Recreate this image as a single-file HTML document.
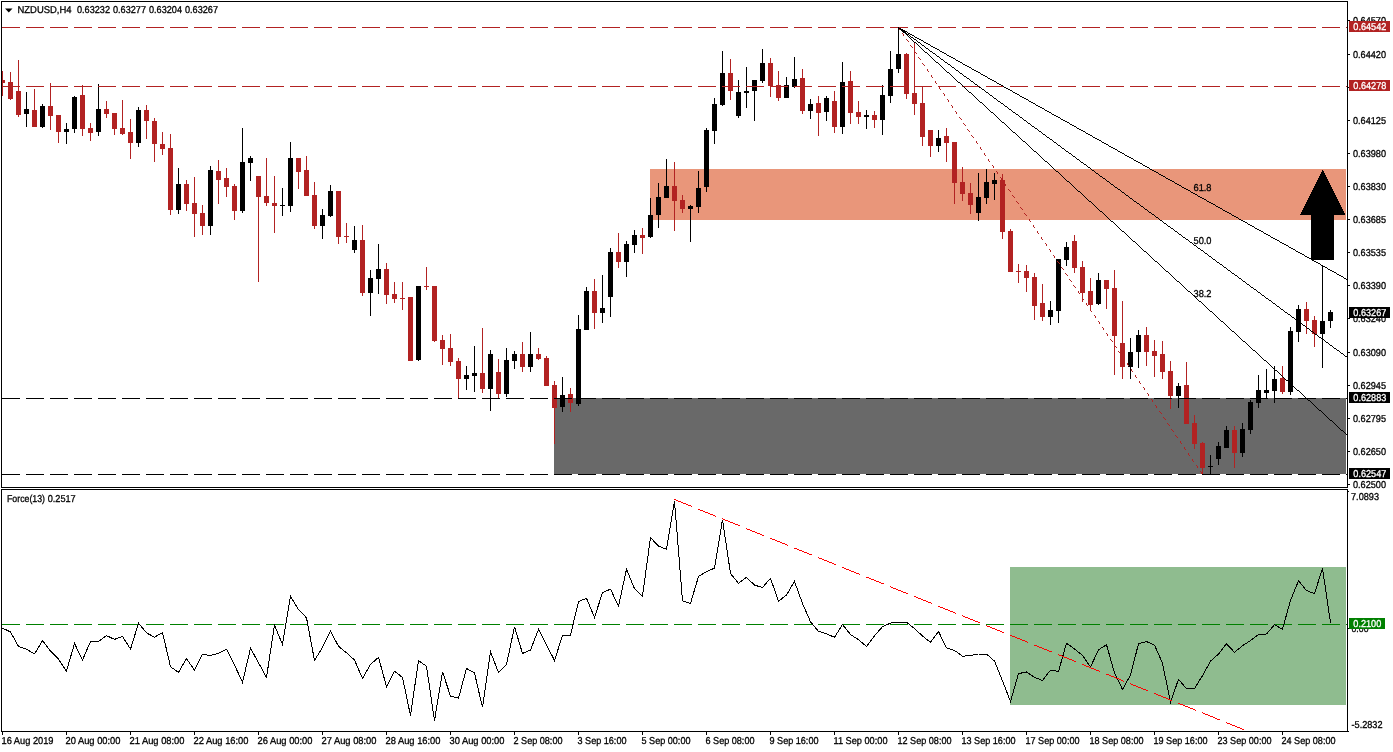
<!DOCTYPE html>
<html lang="en">
<head>
<meta charset="utf-8">
<title>NZDUSD,H4</title>
<style>
html,body{margin:0;padding:0;background:#fff;}
body{width:1393px;height:752px;overflow:hidden;}
svg{display:block;}
text{font-family:'Liberation Sans', 'DejaVu Sans', sans-serif;font-size:10px;fill:#000;stroke:#000;stroke-width:0.3px;}
.ce{shape-rendering:crispEdges;}
</style>
</head>
<body>
<svg width="1393" height="752" viewBox="0 0 1393 752">
<rect x="0" y="0" width="1393" height="752" fill="#fff"/>

<g class="ce">
<rect x="650" y="169" width="696" height="51" fill="#E9967A"/>
<rect x="554" y="398" width="792" height="76" fill="#696969"/>
<rect x="1010" y="567" width="336" height="138" fill="#8FBC8F"/>
</g>
<g class="ce">
<rect x="2" y="71" width="1" height="25" fill="#B22222"/>
<rect x="2" y="80" width="3" height="3" fill="#B22222"/>
<rect x="10" y="72" width="1" height="28" fill="#B22222"/>
<rect x="8" y="82" width="5" height="17" fill="#B22222"/>
<rect x="18" y="60" width="1" height="57" fill="#B22222"/>
<rect x="16" y="91" width="5" height="24" fill="#B22222"/>
<rect x="26" y="92" width="1" height="35" fill="#000"/>
<rect x="24" y="109" width="5" height="5" fill="#000"/>
<rect x="34" y="89" width="1" height="38" fill="#B22222"/>
<rect x="32" y="110" width="5" height="17" fill="#B22222"/>
<rect x="42" y="104" width="1" height="24" fill="#000"/>
<rect x="40" y="106" width="5" height="21" fill="#000"/>
<rect x="50" y="83" width="1" height="47" fill="#B22222"/>
<rect x="48" y="106" width="5" height="10" fill="#B22222"/>
<rect x="58" y="115" width="1" height="28" fill="#B22222"/>
<rect x="56" y="115" width="5" height="17" fill="#B22222"/>
<rect x="66" y="123" width="1" height="21" fill="#000"/>
<rect x="64" y="129" width="5" height="3" fill="#000"/>
<rect x="74" y="96" width="1" height="37" fill="#000"/>
<rect x="72" y="97" width="5" height="32" fill="#000"/>
<rect x="82" y="85" width="1" height="51" fill="#B22222"/>
<rect x="80" y="95" width="5" height="34" fill="#B22222"/>
<rect x="90" y="123" width="1" height="18" fill="#B22222"/>
<rect x="88" y="128" width="5" height="5" fill="#B22222"/>
<rect x="98" y="84" width="1" height="52" fill="#000"/>
<rect x="96" y="109" width="5" height="23" fill="#000"/>
<rect x="106" y="101" width="1" height="17" fill="#B22222"/>
<rect x="104" y="109" width="5" height="5" fill="#B22222"/>
<rect x="114" y="113" width="1" height="22" fill="#B22222"/>
<rect x="112" y="113" width="5" height="16" fill="#B22222"/>
<rect x="122" y="100" width="1" height="35" fill="#B22222"/>
<rect x="120" y="128" width="5" height="6" fill="#B22222"/>
<rect x="130" y="119" width="1" height="40" fill="#B22222"/>
<rect x="128" y="132" width="5" height="11" fill="#B22222"/>
<rect x="138" y="107" width="1" height="40" fill="#000"/>
<rect x="136" y="110" width="5" height="33" fill="#000"/>
<rect x="146" y="105" width="1" height="34" fill="#B22222"/>
<rect x="144" y="110" width="5" height="11" fill="#B22222"/>
<rect x="154" y="118" width="1" height="44" fill="#B22222"/>
<rect x="152" y="121" width="5" height="23" fill="#B22222"/>
<rect x="162" y="132" width="1" height="23" fill="#B22222"/>
<rect x="160" y="144" width="5" height="5" fill="#B22222"/>
<rect x="170" y="134" width="1" height="81" fill="#B22222"/>
<rect x="168" y="148" width="5" height="62" fill="#B22222"/>
<rect x="178" y="168" width="1" height="46" fill="#000"/>
<rect x="176" y="184" width="5" height="26" fill="#000"/>
<rect x="186" y="180" width="1" height="31" fill="#B22222"/>
<rect x="184" y="184" width="5" height="20" fill="#B22222"/>
<rect x="194" y="177" width="1" height="60" fill="#B22222"/>
<rect x="192" y="203" width="5" height="11" fill="#B22222"/>
<rect x="202" y="205" width="1" height="30" fill="#B22222"/>
<rect x="200" y="213" width="5" height="13" fill="#B22222"/>
<rect x="210" y="166" width="1" height="69" fill="#000"/>
<rect x="208" y="170" width="5" height="56" fill="#000"/>
<rect x="218" y="160" width="1" height="44" fill="#B22222"/>
<rect x="216" y="171" width="5" height="9" fill="#B22222"/>
<rect x="226" y="168" width="1" height="29" fill="#B22222"/>
<rect x="224" y="178" width="5" height="9" fill="#B22222"/>
<rect x="234" y="184" width="1" height="36" fill="#B22222"/>
<rect x="232" y="186" width="5" height="25" fill="#B22222"/>
<rect x="242" y="128" width="1" height="85" fill="#000"/>
<rect x="240" y="162" width="5" height="49" fill="#000"/>
<rect x="250" y="156" width="1" height="25" fill="#000"/>
<rect x="248" y="158" width="5" height="5" fill="#000"/>
<rect x="258" y="176" width="1" height="106" fill="#B22222"/>
<rect x="256" y="176" width="5" height="21" fill="#B22222"/>
<rect x="266" y="158" width="1" height="48" fill="#B22222"/>
<rect x="264" y="196" width="5" height="7" fill="#B22222"/>
<rect x="274" y="176" width="1" height="57" fill="#B22222"/>
<rect x="272" y="203" width="5" height="3" fill="#B22222"/>
<rect x="282" y="188" width="1" height="28" fill="#000"/>
<rect x="280" y="205" width="5" height="1" fill="#000"/>
<rect x="290" y="142" width="1" height="70" fill="#000"/>
<rect x="288" y="158" width="5" height="48" fill="#000"/>
<rect x="298" y="158" width="1" height="31" fill="#B22222"/>
<rect x="296" y="158" width="5" height="14" fill="#B22222"/>
<rect x="306" y="156" width="1" height="40" fill="#B22222"/>
<rect x="304" y="170" width="5" height="26" fill="#B22222"/>
<rect x="314" y="182" width="1" height="47" fill="#B22222"/>
<rect x="312" y="195" width="5" height="31" fill="#B22222"/>
<rect x="322" y="209" width="1" height="30" fill="#000"/>
<rect x="320" y="215" width="5" height="11" fill="#000"/>
<rect x="330" y="185" width="1" height="32" fill="#000"/>
<rect x="328" y="191" width="5" height="25" fill="#000"/>
<rect x="338" y="191" width="1" height="53" fill="#B22222"/>
<rect x="336" y="191" width="5" height="46" fill="#B22222"/>
<rect x="346" y="223" width="1" height="20" fill="#B22222"/>
<rect x="344" y="236" width="5" height="1" fill="#B22222"/>
<rect x="354" y="226" width="1" height="27" fill="#000"/>
<rect x="352" y="240" width="5" height="10" fill="#000"/>
<rect x="362" y="225" width="1" height="71" fill="#B22222"/>
<rect x="360" y="240" width="5" height="53" fill="#B22222"/>
<rect x="370" y="270" width="1" height="46" fill="#000"/>
<rect x="368" y="278" width="5" height="15" fill="#000"/>
<rect x="378" y="244" width="1" height="50" fill="#000"/>
<rect x="376" y="269" width="5" height="10" fill="#000"/>
<rect x="386" y="263" width="1" height="41" fill="#B22222"/>
<rect x="384" y="269" width="5" height="26" fill="#B22222"/>
<rect x="394" y="282" width="1" height="21" fill="#B22222"/>
<rect x="392" y="294" width="5" height="5" fill="#B22222"/>
<rect x="402" y="282" width="1" height="28" fill="#B22222"/>
<rect x="400" y="298" width="5" height="1" fill="#B22222"/>
<rect x="410" y="297" width="1" height="64" fill="#B22222"/>
<rect x="408" y="297" width="5" height="64" fill="#B22222"/>
<rect x="418" y="286" width="1" height="75" fill="#000"/>
<rect x="416" y="286" width="5" height="74" fill="#000"/>
<rect x="426" y="267" width="1" height="23" fill="#B22222"/>
<rect x="424" y="286" width="5" height="1" fill="#B22222"/>
<rect x="434" y="286" width="1" height="56" fill="#B22222"/>
<rect x="432" y="286" width="5" height="55" fill="#B22222"/>
<rect x="442" y="335" width="1" height="30" fill="#B22222"/>
<rect x="440" y="340" width="5" height="9" fill="#B22222"/>
<rect x="450" y="334" width="1" height="32" fill="#B22222"/>
<rect x="448" y="348" width="5" height="14" fill="#B22222"/>
<rect x="458" y="358" width="1" height="40" fill="#B22222"/>
<rect x="456" y="361" width="5" height="18" fill="#B22222"/>
<rect x="466" y="366" width="1" height="24" fill="#000"/>
<rect x="464" y="375" width="5" height="4" fill="#000"/>
<rect x="474" y="346" width="1" height="46" fill="#000"/>
<rect x="472" y="373" width="5" height="3" fill="#000"/>
<rect x="482" y="328" width="1" height="65" fill="#B22222"/>
<rect x="480" y="373" width="5" height="16" fill="#B22222"/>
<rect x="490" y="350" width="1" height="61" fill="#000"/>
<rect x="488" y="354" width="5" height="35" fill="#000"/>
<rect x="498" y="359" width="1" height="39" fill="#B22222"/>
<rect x="496" y="372" width="5" height="22" fill="#B22222"/>
<rect x="506" y="348" width="1" height="49" fill="#000"/>
<rect x="504" y="360" width="5" height="34" fill="#000"/>
<rect x="514" y="351" width="1" height="18" fill="#000"/>
<rect x="512" y="354" width="5" height="7" fill="#000"/>
<rect x="522" y="342" width="1" height="30" fill="#B22222"/>
<rect x="520" y="354" width="5" height="13" fill="#B22222"/>
<rect x="530" y="332" width="1" height="40" fill="#000"/>
<rect x="528" y="354" width="5" height="13" fill="#000"/>
<rect x="538" y="348" width="1" height="12" fill="#B22222"/>
<rect x="536" y="354" width="5" height="5" fill="#B22222"/>
<rect x="546" y="356" width="1" height="30" fill="#B22222"/>
<rect x="544" y="358" width="5" height="28" fill="#B22222"/>
<rect x="554" y="381" width="1" height="63" fill="#B22222"/>
<rect x="552" y="385" width="5" height="23" fill="#B22222"/>
<rect x="562" y="377" width="1" height="35" fill="#000"/>
<rect x="560" y="395" width="5" height="12" fill="#000"/>
<rect x="570" y="388" width="1" height="24" fill="#B22222"/>
<rect x="568" y="394" width="5" height="9" fill="#B22222"/>
<rect x="578" y="315" width="1" height="91" fill="#000"/>
<rect x="576" y="329" width="5" height="75" fill="#000"/>
<rect x="586" y="287" width="1" height="43" fill="#000"/>
<rect x="584" y="291" width="5" height="39" fill="#000"/>
<rect x="594" y="279" width="1" height="50" fill="#B22222"/>
<rect x="592" y="291" width="5" height="22" fill="#B22222"/>
<rect x="602" y="275" width="1" height="48" fill="#000"/>
<rect x="600" y="308" width="5" height="5" fill="#000"/>
<rect x="610" y="248" width="1" height="69" fill="#000"/>
<rect x="608" y="252" width="5" height="45" fill="#000"/>
<rect x="618" y="233" width="1" height="35" fill="#B22222"/>
<rect x="616" y="252" width="5" height="10" fill="#B22222"/>
<rect x="626" y="241" width="1" height="36" fill="#000"/>
<rect x="624" y="244" width="5" height="18" fill="#000"/>
<rect x="634" y="230" width="1" height="23" fill="#000"/>
<rect x="632" y="235" width="5" height="10" fill="#000"/>
<rect x="642" y="228" width="1" height="26" fill="#B22222"/>
<rect x="640" y="235" width="5" height="3" fill="#B22222"/>
<rect x="650" y="198" width="1" height="40" fill="#000"/>
<rect x="648" y="215" width="5" height="22" fill="#000"/>
<rect x="658" y="183" width="1" height="45" fill="#000"/>
<rect x="656" y="197" width="5" height="18" fill="#000"/>
<rect x="666" y="159" width="1" height="39" fill="#000"/>
<rect x="664" y="186" width="5" height="12" fill="#000"/>
<rect x="674" y="162" width="1" height="69" fill="#B22222"/>
<rect x="672" y="186" width="5" height="15" fill="#B22222"/>
<rect x="682" y="195" width="1" height="18" fill="#B22222"/>
<rect x="680" y="200" width="5" height="9" fill="#B22222"/>
<rect x="690" y="205" width="1" height="37" fill="#000"/>
<rect x="688" y="206" width="5" height="3" fill="#000"/>
<rect x="698" y="171" width="1" height="42" fill="#000"/>
<rect x="696" y="188" width="5" height="19" fill="#000"/>
<rect x="706" y="128" width="1" height="64" fill="#000"/>
<rect x="704" y="130" width="5" height="57" fill="#000"/>
<rect x="714" y="98" width="1" height="46" fill="#000"/>
<rect x="712" y="104" width="5" height="27" fill="#000"/>
<rect x="722" y="51" width="1" height="55" fill="#000"/>
<rect x="720" y="73" width="5" height="32" fill="#000"/>
<rect x="730" y="59" width="1" height="41" fill="#B22222"/>
<rect x="728" y="73" width="5" height="18" fill="#B22222"/>
<rect x="738" y="80" width="1" height="38" fill="#000"/>
<rect x="736" y="92" width="5" height="24" fill="#000"/>
<rect x="746" y="67" width="1" height="41" fill="#000"/>
<rect x="744" y="91" width="5" height="2" fill="#000"/>
<rect x="754" y="80" width="1" height="41" fill="#000"/>
<rect x="752" y="80" width="5" height="11" fill="#000"/>
<rect x="762" y="49" width="1" height="34" fill="#000"/>
<rect x="760" y="63" width="5" height="18" fill="#000"/>
<rect x="770" y="58" width="1" height="39" fill="#B22222"/>
<rect x="768" y="63" width="5" height="23" fill="#B22222"/>
<rect x="778" y="71" width="1" height="30" fill="#B22222"/>
<rect x="776" y="85" width="5" height="13" fill="#B22222"/>
<rect x="786" y="77" width="1" height="21" fill="#000"/>
<rect x="784" y="85" width="5" height="13" fill="#000"/>
<rect x="794" y="57" width="1" height="31" fill="#000"/>
<rect x="792" y="79" width="5" height="8" fill="#000"/>
<rect x="802" y="69" width="1" height="45" fill="#B22222"/>
<rect x="800" y="78" width="5" height="33" fill="#B22222"/>
<rect x="810" y="99" width="1" height="20" fill="#000"/>
<rect x="808" y="104" width="5" height="7" fill="#000"/>
<rect x="818" y="96" width="1" height="40" fill="#B22222"/>
<rect x="816" y="103" width="5" height="10" fill="#B22222"/>
<rect x="826" y="96" width="1" height="25" fill="#000"/>
<rect x="824" y="98" width="5" height="14" fill="#000"/>
<rect x="834" y="91" width="1" height="42" fill="#B22222"/>
<rect x="832" y="101" width="5" height="26" fill="#B22222"/>
<rect x="842" y="62" width="1" height="72" fill="#000"/>
<rect x="840" y="82" width="5" height="45" fill="#000"/>
<rect x="850" y="71" width="1" height="53" fill="#B22222"/>
<rect x="848" y="81" width="5" height="32" fill="#B22222"/>
<rect x="858" y="101" width="1" height="23" fill="#B22222"/>
<rect x="856" y="112" width="5" height="5" fill="#B22222"/>
<rect x="866" y="110" width="1" height="19" fill="#000"/>
<rect x="864" y="115" width="5" height="2" fill="#000"/>
<rect x="874" y="111" width="1" height="17" fill="#B22222"/>
<rect x="872" y="115" width="5" height="5" fill="#B22222"/>
<rect x="882" y="85" width="1" height="50" fill="#000"/>
<rect x="880" y="95" width="5" height="25" fill="#000"/>
<rect x="890" y="51" width="1" height="52" fill="#000"/>
<rect x="888" y="69" width="5" height="27" fill="#000"/>
<rect x="898" y="27" width="1" height="46" fill="#000"/>
<rect x="896" y="54" width="5" height="15" fill="#000"/>
<rect x="906" y="53" width="1" height="46" fill="#B22222"/>
<rect x="904" y="54" width="5" height="40" fill="#B22222"/>
<rect x="914" y="43" width="1" height="72" fill="#B22222"/>
<rect x="912" y="93" width="5" height="11" fill="#B22222"/>
<rect x="922" y="86" width="1" height="60" fill="#B22222"/>
<rect x="920" y="103" width="5" height="34" fill="#B22222"/>
<rect x="930" y="130" width="1" height="27" fill="#B22222"/>
<rect x="928" y="130" width="5" height="16" fill="#B22222"/>
<rect x="938" y="130" width="1" height="22" fill="#000"/>
<rect x="936" y="138" width="5" height="8" fill="#000"/>
<rect x="946" y="128" width="1" height="34" fill="#B22222"/>
<rect x="944" y="136" width="5" height="7" fill="#B22222"/>
<rect x="954" y="142" width="1" height="62" fill="#B22222"/>
<rect x="952" y="142" width="5" height="41" fill="#B22222"/>
<rect x="962" y="167" width="1" height="34" fill="#B22222"/>
<rect x="960" y="182" width="5" height="12" fill="#B22222"/>
<rect x="970" y="183" width="1" height="31" fill="#B22222"/>
<rect x="968" y="193" width="5" height="12" fill="#B22222"/>
<rect x="978" y="173" width="1" height="48" fill="#000"/>
<rect x="976" y="197" width="5" height="16" fill="#000"/>
<rect x="986" y="169" width="1" height="35" fill="#000"/>
<rect x="984" y="182" width="5" height="16" fill="#000"/>
<rect x="994" y="173" width="1" height="27" fill="#000"/>
<rect x="992" y="180" width="5" height="4" fill="#000"/>
<rect x="1002" y="174" width="1" height="65" fill="#B22222"/>
<rect x="1000" y="180" width="5" height="52" fill="#B22222"/>
<rect x="1010" y="229" width="1" height="43" fill="#B22222"/>
<rect x="1008" y="231" width="5" height="41" fill="#B22222"/>
<rect x="1018" y="264" width="1" height="19" fill="#B22222"/>
<rect x="1016" y="271" width="5" height="1" fill="#B22222"/>
<rect x="1026" y="265" width="1" height="27" fill="#B22222"/>
<rect x="1024" y="271" width="5" height="7" fill="#B22222"/>
<rect x="1034" y="273" width="1" height="47" fill="#B22222"/>
<rect x="1032" y="277" width="5" height="29" fill="#B22222"/>
<rect x="1042" y="284" width="1" height="37" fill="#B22222"/>
<rect x="1040" y="303" width="5" height="14" fill="#B22222"/>
<rect x="1050" y="301" width="1" height="24" fill="#000"/>
<rect x="1048" y="310" width="5" height="7" fill="#000"/>
<rect x="1058" y="259" width="1" height="64" fill="#000"/>
<rect x="1056" y="259" width="5" height="52" fill="#000"/>
<rect x="1066" y="242" width="1" height="24" fill="#000"/>
<rect x="1064" y="247" width="5" height="13" fill="#000"/>
<rect x="1074" y="235" width="1" height="38" fill="#B22222"/>
<rect x="1072" y="241" width="5" height="27" fill="#B22222"/>
<rect x="1082" y="261" width="1" height="41" fill="#B22222"/>
<rect x="1080" y="267" width="5" height="26" fill="#B22222"/>
<rect x="1090" y="278" width="1" height="33" fill="#B22222"/>
<rect x="1088" y="291" width="5" height="14" fill="#B22222"/>
<rect x="1098" y="273" width="1" height="32" fill="#000"/>
<rect x="1096" y="280" width="5" height="24" fill="#000"/>
<rect x="1106" y="280" width="1" height="29" fill="#B22222"/>
<rect x="1104" y="280" width="5" height="9" fill="#B22222"/>
<rect x="1114" y="270" width="1" height="105" fill="#B22222"/>
<rect x="1112" y="288" width="5" height="48" fill="#B22222"/>
<rect x="1122" y="301" width="1" height="78" fill="#B22222"/>
<rect x="1120" y="343" width="5" height="24" fill="#B22222"/>
<rect x="1130" y="338" width="1" height="41" fill="#000"/>
<rect x="1128" y="352" width="5" height="15" fill="#000"/>
<rect x="1138" y="330" width="1" height="38" fill="#000"/>
<rect x="1136" y="335" width="5" height="17" fill="#000"/>
<rect x="1146" y="327" width="1" height="39" fill="#B22222"/>
<rect x="1144" y="335" width="5" height="17" fill="#B22222"/>
<rect x="1154" y="340" width="1" height="37" fill="#B22222"/>
<rect x="1152" y="351" width="5" height="5" fill="#B22222"/>
<rect x="1162" y="341" width="1" height="38" fill="#B22222"/>
<rect x="1160" y="354" width="5" height="18" fill="#B22222"/>
<rect x="1170" y="361" width="1" height="48" fill="#B22222"/>
<rect x="1168" y="371" width="5" height="25" fill="#B22222"/>
<rect x="1178" y="383" width="1" height="25" fill="#000"/>
<rect x="1176" y="386" width="5" height="10" fill="#000"/>
<rect x="1186" y="362" width="1" height="62" fill="#B22222"/>
<rect x="1184" y="385" width="5" height="39" fill="#B22222"/>
<rect x="1194" y="415" width="1" height="34" fill="#B22222"/>
<rect x="1192" y="423" width="5" height="21" fill="#B22222"/>
<rect x="1202" y="442" width="1" height="32" fill="#B22222"/>
<rect x="1200" y="443" width="5" height="25" fill="#B22222"/>
<rect x="1210" y="455" width="1" height="19" fill="#000"/>
<rect x="1208" y="466" width="5" height="1" fill="#000"/>
<rect x="1218" y="442" width="1" height="23" fill="#000"/>
<rect x="1216" y="446" width="5" height="13" fill="#000"/>
<rect x="1226" y="426" width="1" height="22" fill="#000"/>
<rect x="1224" y="430" width="5" height="18" fill="#000"/>
<rect x="1234" y="426" width="1" height="42" fill="#B22222"/>
<rect x="1232" y="430" width="5" height="23" fill="#B22222"/>
<rect x="1242" y="423" width="1" height="34" fill="#000"/>
<rect x="1240" y="429" width="5" height="24" fill="#000"/>
<rect x="1250" y="400" width="1" height="34" fill="#000"/>
<rect x="1248" y="402" width="5" height="28" fill="#000"/>
<rect x="1258" y="375" width="1" height="33" fill="#000"/>
<rect x="1256" y="390" width="5" height="13" fill="#000"/>
<rect x="1266" y="369" width="1" height="29" fill="#000"/>
<rect x="1264" y="390" width="5" height="3" fill="#000"/>
<rect x="1274" y="366" width="1" height="37" fill="#000"/>
<rect x="1272" y="379" width="5" height="12" fill="#000"/>
<rect x="1282" y="366" width="1" height="28" fill="#B22222"/>
<rect x="1280" y="378" width="5" height="14" fill="#B22222"/>
<rect x="1290" y="327" width="1" height="68" fill="#000"/>
<rect x="1288" y="331" width="5" height="61" fill="#000"/>
<rect x="1298" y="305" width="1" height="37" fill="#000"/>
<rect x="1296" y="309" width="5" height="23" fill="#000"/>
<rect x="1306" y="302" width="1" height="32" fill="#B22222"/>
<rect x="1304" y="309" width="5" height="12" fill="#B22222"/>
<rect x="1314" y="316" width="1" height="31" fill="#B22222"/>
<rect x="1312" y="320" width="5" height="14" fill="#B22222"/>
<rect x="1322" y="265" width="1" height="103" fill="#000"/>
<rect x="1320" y="321" width="5" height="13" fill="#000"/>
<rect x="1330" y="310" width="1" height="18" fill="#000"/>
<rect x="1328" y="312" width="5" height="9" fill="#000"/>
</g>
<line class="ce" x1="2" y1="27.5" x2="1347" y2="27.5" stroke="#B22222" stroke-width="1" stroke-dasharray="18 6"/>
<line class="ce" x1="2" y1="86.5" x2="1347" y2="86.5" stroke="#B22222" stroke-width="1" stroke-dasharray="18 6"/>
<line class="ce" x1="2" y1="398.5" x2="1347" y2="398.5" stroke="#000" stroke-width="1" stroke-dasharray="18 6"/>
<line class="ce" x1="2" y1="474.5" x2="1347" y2="474.5" stroke="#000" stroke-width="1" stroke-dasharray="18 6"/>
<line class="ce" x1="2" y1="624.5" x2="1347" y2="624.5" stroke="#008000" stroke-width="1" stroke-dasharray="18 6"/>
<path class="ce" d="M898.5 27v1M899.5 28v2M902.5 33v1M903.5 34v2M906.5 39v1M907.5 40v1M908.5 41v1M910.5 45v1M911.5 46v1M912.5 47v1M914.5 51v1M915.5 52v1M916.5 53v1M918.5 57v1M919.5 58v1M920.5 59v1M922.5 63v1M923.5 64v1M924.5 65v1M927.5 69v2M928.5 71v1M931.5 75v2M932.5 77v1M935.5 81v2M936.5 83v1M939.5 87v2M940.5 89v1M943.5 93v1M944.5 94v2M947.5 99v1M948.5 100v2M951.5 105v1M952.5 106v2M955.5 111v1M956.5 112v2M959.5 117v1M960.5 118v1M961.5 119v1M963.5 123v1M964.5 124v1M965.5 125v1M967.5 129v1M968.5 130v1M969.5 131v1M971.5 135v1M972.5 136v1M973.5 137v1M976.5 141v2M977.5 143v1M980.5 147v2M981.5 149v1M984.5 153v2M985.5 155v1M988.5 159v2M989.5 161v1M992.5 165v1M993.5 166v2M996.5 171v1M997.5 172v2M1000.5 177v1M1001.5 178v2M1004.5 183v1M1005.5 184v2M1008.5 189v1M1009.5 190v1M1010.5 191v1M1012.5 195v1M1013.5 196v1M1014.5 197v1M1016.5 201v1M1017.5 202v1M1018.5 203v1M1020.5 207v1M1021.5 208v1M1022.5 209v1M1024.5 213v1M1025.5 214v1M1026.5 215v1M1029.5 219v2M1030.5 221v1M1033.5 225v2M1034.5 227v1M1037.5 231v2M1038.5 233v1M1041.5 237v2M1042.5 239v1M1045.5 243v1M1046.5 244v2M1049.5 249v1M1050.5 250v2M1053.5 255v1M1054.5 256v2M1057.5 261v1M1058.5 262v1M1059.5 263v1M1061.5 267v1M1062.5 268v1M1063.5 269v1M1065.5 273v1M1066.5 274v1M1067.5 275v1M1069.5 279v1M1070.5 280v1M1071.5 281v1M1073.5 285v1M1074.5 286v1M1075.5 287v1M1078.5 291v2M1079.5 293v1M1082.5 297v2M1083.5 299v1M1086.5 303v2M1087.5 305v1M1090.5 309v2M1091.5 311v1M1094.5 315v1M1095.5 316v2M1098.5 321v1M1099.5 322v2M1102.5 327v1M1103.5 328v2M1106.5 333v1M1107.5 334v2M1110.5 339v1M1111.5 340v1M1112.5 341v1M1114.5 345v1M1115.5 346v1M1116.5 347v1M1118.5 351v1M1119.5 352v1M1120.5 353v1M1122.5 357v1M1123.5 358v1M1124.5 359v1M1127.5 363v2M1128.5 365v1M1131.5 369v2M1132.5 371v1M1135.5 375v2M1136.5 377v1M1139.5 381v2M1140.5 383v1M1143.5 387v1M1144.5 388v2M1147.5 393v1M1148.5 394v2M1151.5 399v1M1152.5 400v2M1155.5 405v1M1156.5 406v2M1159.5 411v1M1160.5 412v1M1161.5 413v1M1163.5 417v1M1164.5 418v1M1165.5 419v1M1167.5 423v1M1168.5 424v1M1169.5 425v1M1171.5 429v1M1172.5 430v1M1173.5 431v1M1175.5 435v1M1176.5 436v1M1177.5 437v1M1180.5 441v2M1181.5 443v1M1184.5 447v2M1185.5 449v1M1188.5 453v2M1189.5 455v1M1192.5 459v2M1193.5 461v1M1196.5 465v1M1197.5 466v2M1200.5 471v1M1201.5 472v2" stroke="#B22222" stroke-width="1" fill="none"/>
<path class="ce" d="M898 27.5h1M899 28.5h2M901 29.5h2M903 30.5h2M905 31.5h2M907 32.5h1M908 33.5h2M910 34.5h2M912 35.5h2M914 36.5h1M915 37.5h2M917 38.5h2M919 39.5h2M921 40.5h2M923 41.5h1M924 42.5h2M926 43.5h2M928 44.5h2M930 45.5h1M931 46.5h2M933 47.5h2M935 48.5h2M937 49.5h2M939 50.5h1M940 51.5h2M942 52.5h2M944 53.5h2M946 54.5h1M947 55.5h2M949 56.5h2M951 57.5h2M953 58.5h2M955 59.5h1M956 60.5h2M958 61.5h2M960 62.5h2M962 63.5h1M963 64.5h2M965 65.5h2M967 66.5h2M969 67.5h2M971 68.5h1M972 69.5h2M974 70.5h2M976 71.5h2M978 72.5h2M980 73.5h1M981 74.5h2M983 75.5h2M985 76.5h2M987 77.5h1M988 78.5h2M990 79.5h2M992 80.5h2M994 81.5h2M996 82.5h1M997 83.5h2M999 84.5h2M1001 85.5h2M1003 86.5h1M1004 87.5h2M1006 88.5h2M1008 89.5h2M1010 90.5h2M1012 91.5h1M1013 92.5h2M1015 93.5h2M1017 94.5h2M1019 95.5h1M1020 96.5h2M1022 97.5h2M1024 98.5h2M1026 99.5h2M1028 100.5h1M1029 101.5h2M1031 102.5h2M1033 103.5h2M1035 104.5h1M1036 105.5h2M1038 106.5h2M1040 107.5h2M1042 108.5h2M1044 109.5h1M1045 110.5h2M1047 111.5h2M1049 112.5h2M1051 113.5h1M1052 114.5h2M1054 115.5h2M1056 116.5h2M1058 117.5h2M1060 118.5h1M1061 119.5h2M1063 120.5h2M1065 121.5h2M1067 122.5h2M1069 123.5h1M1070 124.5h2M1072 125.5h2M1074 126.5h2M1076 127.5h1M1077 128.5h2M1079 129.5h2M1081 130.5h2M1083 131.5h2M1085 132.5h1M1086 133.5h2M1088 134.5h2M1090 135.5h2M1092 136.5h1M1093 137.5h2M1095 138.5h2M1097 139.5h2M1099 140.5h2M1101 141.5h1M1102 142.5h2M1104 143.5h2M1106 144.5h2M1108 145.5h1M1109 146.5h2M1111 147.5h2M1113 148.5h2M1115 149.5h2M1117 150.5h1M1118 151.5h2M1120 152.5h2M1122 153.5h2M1124 154.5h1M1125 155.5h2M1127 156.5h2M1129 157.5h2M1131 158.5h2M1133 159.5h1M1134 160.5h2M1136 161.5h2M1138 162.5h2M1140 163.5h2M1142 164.5h1M1143 165.5h2M1145 166.5h2M1147 167.5h2M1149 168.5h1M1150 169.5h2M1152 170.5h2M1154 171.5h2M1156 172.5h2M1158 173.5h1M1159 174.5h2M1161 175.5h2M1163 176.5h2M1165 177.5h1M1166 178.5h2M1168 179.5h2M1170 180.5h2M1172 181.5h2M1174 182.5h1M1175 183.5h2M1177 184.5h2M1179 185.5h2M1181 186.5h1M1182 187.5h2M1184 188.5h2M1186 189.5h2M1188 190.5h2M1190 191.5h1M1191 192.5h2M1193 193.5h2M1195 194.5h2M1197 195.5h1M1198 196.5h2M1200 197.5h2M1202 198.5h2M1204 199.5h2M1206 200.5h1M1207 201.5h2M1209 202.5h2M1211 203.5h2M1213 204.5h2M1215 205.5h1M1216 206.5h2M1218 207.5h2M1220 208.5h2M1222 209.5h1M1223 210.5h2M1225 211.5h2M1227 212.5h2M1229 213.5h2M1231 214.5h1M1232 215.5h2M1234 216.5h2M1236 217.5h2M1238 218.5h1M1239 219.5h2M1241 220.5h2M1243 221.5h2M1245 222.5h2M1247 223.5h1M1248 224.5h2M1250 225.5h2M1252 226.5h2M1254 227.5h1M1255 228.5h2M1257 229.5h2M1259 230.5h2M1261 231.5h2M1263 232.5h1M1264 233.5h2M1266 234.5h2M1268 235.5h2M1270 236.5h1M1271 237.5h2M1273 238.5h2M1275 239.5h2M1277 240.5h2M1279 241.5h1M1280 242.5h2M1282 243.5h2M1284 244.5h2M1286 245.5h2M1288 246.5h1M1289 247.5h2M1291 248.5h2M1293 249.5h2M1295 250.5h1M1296 251.5h2M1298 252.5h2M1300 253.5h2M1302 254.5h2M1304 255.5h1M1305 256.5h2M1307 257.5h2M1309 258.5h2M1311 259.5h1M1312 260.5h2M1314 261.5h2M1316 262.5h2M1318 263.5h2M1320 264.5h1M1321 265.5h2M1323 266.5h2M1325 267.5h2M1327 268.5h1M1328 269.5h2M1330 270.5h2M1332 271.5h2M1334 272.5h2M1336 273.5h1M1337 274.5h2M1339 275.5h2M1341 276.5h2M1343 277.5h1M1344 278.5h2M1346 279.5h1" stroke="#000" stroke-width="1" fill="none"/>
<path class="ce" d="M898 27.5h1M899 28.5h2M901 29.5h1M902 30.5h1M903 31.5h2M905 32.5h1M906 33.5h1M907 34.5h2M909 35.5h1M910 36.5h1M911 37.5h2M913 38.5h1M914 39.5h2M916 40.5h1M917 41.5h1M918 42.5h2M920 43.5h1M921 44.5h1M922 45.5h2M924 46.5h1M925 47.5h1M926 48.5h2M928 49.5h1M929 50.5h1M930 51.5h2M932 52.5h1M933 53.5h2M935 54.5h1M936 55.5h1M937 56.5h2M939 57.5h1M940 58.5h1M941 59.5h2M943 60.5h1M944 61.5h1M945 62.5h2M947 63.5h1M948 64.5h2M950 65.5h1M951 66.5h1M952 67.5h2M954 68.5h1M955 69.5h1M956 70.5h2M958 71.5h1M959 72.5h1M960 73.5h2M962 74.5h1M963 75.5h1M964 76.5h2M966 77.5h1M967 78.5h2M969 79.5h1M970 80.5h1M971 81.5h2M973 82.5h1M974 83.5h1M975 84.5h2M977 85.5h1M978 86.5h1M979 87.5h2M981 88.5h1M982 89.5h2M984 90.5h1M985 91.5h1M986 92.5h2M988 93.5h1M989 94.5h1M990 95.5h2M992 96.5h1M993 97.5h1M994 98.5h2M996 99.5h1M997 100.5h1M998 101.5h2M1000 102.5h1M1001 103.5h2M1003 104.5h1M1004 105.5h1M1005 106.5h2M1007 107.5h1M1008 108.5h1M1009 109.5h2M1011 110.5h1M1012 111.5h1M1013 112.5h2M1015 113.5h1M1016 114.5h2M1018 115.5h1M1019 116.5h1M1020 117.5h2M1022 118.5h1M1023 119.5h1M1024 120.5h2M1026 121.5h1M1027 122.5h1M1028 123.5h2M1030 124.5h1M1031 125.5h1M1032 126.5h2M1034 127.5h1M1035 128.5h2M1037 129.5h1M1038 130.5h1M1039 131.5h2M1041 132.5h1M1042 133.5h1M1043 134.5h2M1045 135.5h1M1046 136.5h1M1047 137.5h2M1049 138.5h1M1050 139.5h2M1052 140.5h1M1053 141.5h1M1054 142.5h2M1056 143.5h1M1057 144.5h1M1058 145.5h2M1060 146.5h1M1061 147.5h1M1062 148.5h2M1064 149.5h1M1065 150.5h1M1066 151.5h2M1068 152.5h1M1069 153.5h2M1071 154.5h1M1072 155.5h1M1073 156.5h2M1075 157.5h1M1076 158.5h1M1077 159.5h2M1079 160.5h1M1080 161.5h1M1081 162.5h2M1083 163.5h1M1084 164.5h2M1086 165.5h1M1087 166.5h1M1088 167.5h2M1090 168.5h1M1091 169.5h1M1092 170.5h2M1094 171.5h1M1095 172.5h1M1096 173.5h2M1098 174.5h1M1099 175.5h1M1100 176.5h2M1102 177.5h1M1103 178.5h2M1105 179.5h1M1106 180.5h1M1107 181.5h2M1109 182.5h1M1110 183.5h1M1111 184.5h2M1113 185.5h1M1114 186.5h1M1115 187.5h2M1117 188.5h1M1118 189.5h2M1120 190.5h1M1121 191.5h1M1122 192.5h2M1124 193.5h1M1125 194.5h1M1126 195.5h2M1128 196.5h1M1129 197.5h1M1130 198.5h2M1132 199.5h1M1133 200.5h1M1134 201.5h2M1136 202.5h1M1137 203.5h2M1139 204.5h1M1140 205.5h1M1141 206.5h2M1143 207.5h1M1144 208.5h1M1145 209.5h2M1147 210.5h1M1148 211.5h1M1149 212.5h2M1151 213.5h1M1152 214.5h2M1154 215.5h1M1155 216.5h1M1156 217.5h2M1158 218.5h1M1159 219.5h1M1160 220.5h2M1162 221.5h1M1163 222.5h1M1164 223.5h2M1166 224.5h1M1167 225.5h1M1168 226.5h2M1170 227.5h1M1171 228.5h2M1173 229.5h1M1174 230.5h1M1175 231.5h2M1177 232.5h1M1178 233.5h1M1179 234.5h2M1181 235.5h1M1182 236.5h1M1183 237.5h2M1185 238.5h1M1186 239.5h2M1188 240.5h1M1189 241.5h1M1190 242.5h2M1192 243.5h1M1193 244.5h1M1194 245.5h2M1196 246.5h1M1197 247.5h1M1198 248.5h2M1200 249.5h1M1201 250.5h2M1203 251.5h1M1204 252.5h1M1205 253.5h2M1207 254.5h1M1208 255.5h1M1209 256.5h2M1211 257.5h1M1212 258.5h1M1213 259.5h2M1215 260.5h1M1216 261.5h1M1217 262.5h2M1219 263.5h1M1220 264.5h2M1222 265.5h1M1223 266.5h1M1224 267.5h2M1226 268.5h1M1227 269.5h1M1228 270.5h2M1230 271.5h1M1231 272.5h1M1232 273.5h2M1234 274.5h1M1235 275.5h2M1237 276.5h1M1238 277.5h1M1239 278.5h2M1241 279.5h1M1242 280.5h1M1243 281.5h2M1245 282.5h1M1246 283.5h1M1247 284.5h2M1249 285.5h1M1250 286.5h1M1251 287.5h2M1253 288.5h1M1254 289.5h2M1256 290.5h1M1257 291.5h1M1258 292.5h2M1260 293.5h1M1261 294.5h1M1262 295.5h2M1264 296.5h1M1265 297.5h1M1266 298.5h2M1268 299.5h1M1269 300.5h2M1271 301.5h1M1272 302.5h1M1273 303.5h2M1275 304.5h1M1276 305.5h1M1277 306.5h2M1279 307.5h1M1280 308.5h1M1281 309.5h2M1283 310.5h1M1284 311.5h1M1285 312.5h2M1287 313.5h1M1288 314.5h2M1290 315.5h1M1291 316.5h1M1292 317.5h2M1294 318.5h1M1295 319.5h1M1296 320.5h2M1298 321.5h1M1299 322.5h1M1300 323.5h2M1302 324.5h1M1303 325.5h2M1305 326.5h1M1306 327.5h1M1307 328.5h2M1309 329.5h1M1310 330.5h1M1311 331.5h2M1313 332.5h1M1314 333.5h1M1315 334.5h2M1317 335.5h1M1318 336.5h1M1319 337.5h2M1321 338.5h1M1322 339.5h2M1324 340.5h1M1325 341.5h1M1326 342.5h2M1328 343.5h1M1329 344.5h1M1330 345.5h2M1332 346.5h1M1333 347.5h1M1334 348.5h2M1336 349.5h1M1337 350.5h2M1339 351.5h1M1340 352.5h1M1341 353.5h2M1343 354.5h1M1344 355.5h1M1345 356.5h2" stroke="#000" stroke-width="1" fill="none"/>
<path class="ce" d="M898 27.5h1M899 28.5h1M900 29.5h1M901 30.5h1M902 31.5h1M903 32.5h2M905 33.5h1M906 34.5h1M907 35.5h1M908 36.5h1M909 37.5h1M910 38.5h1M911 39.5h1M912 40.5h1M913 41.5h1M914 42.5h2M916 43.5h1M917 44.5h1M918 45.5h1M919 46.5h1M920 47.5h1M921 48.5h1M922 49.5h1M923 50.5h1M924 51.5h1M925 52.5h2M927 53.5h1M928 54.5h1M929 55.5h1M930 56.5h1M931 57.5h1M932 58.5h1M933 59.5h1M934 60.5h1M935 61.5h1M936 62.5h2M938 63.5h1M939 64.5h1M940 65.5h1M941 66.5h1M942 67.5h1M943 68.5h1M944 69.5h1M945 70.5h1M946 71.5h1M947 72.5h2M949 73.5h1M950 74.5h1M951 75.5h1M952 76.5h1M953 77.5h1M954 78.5h1M955 79.5h1M956 80.5h1M957 81.5h1M958 82.5h2M960 83.5h1M961 84.5h1M962 85.5h1M963 86.5h1M964 87.5h1M965 88.5h1M966 89.5h1M967 90.5h1M968 91.5h1M969 92.5h2M971 93.5h1M972 94.5h1M973 95.5h1M974 96.5h1M975 97.5h1M976 98.5h1M977 99.5h1M978 100.5h1M979 101.5h1M980 102.5h2M982 103.5h1M983 104.5h1M984 105.5h1M985 106.5h1M986 107.5h1M987 108.5h1M988 109.5h1M989 110.5h1M990 111.5h1M991 112.5h2M993 113.5h1M994 114.5h1M995 115.5h1M996 116.5h1M997 117.5h1M998 118.5h1M999 119.5h1M1000 120.5h1M1001 121.5h1M1002 122.5h2M1004 123.5h1M1005 124.5h1M1006 125.5h1M1007 126.5h1M1008 127.5h1M1009 128.5h1M1010 129.5h1M1011 130.5h1M1012 131.5h1M1013 132.5h2M1015 133.5h1M1016 134.5h1M1017 135.5h1M1018 136.5h1M1019 137.5h1M1020 138.5h1M1021 139.5h1M1022 140.5h1M1023 141.5h2M1025 142.5h1M1026 143.5h1M1027 144.5h1M1028 145.5h1M1029 146.5h1M1030 147.5h1M1031 148.5h1M1032 149.5h1M1033 150.5h1M1034 151.5h2M1036 152.5h1M1037 153.5h1M1038 154.5h1M1039 155.5h1M1040 156.5h1M1041 157.5h1M1042 158.5h1M1043 159.5h1M1044 160.5h1M1045 161.5h2M1047 162.5h1M1048 163.5h1M1049 164.5h1M1050 165.5h1M1051 166.5h1M1052 167.5h1M1053 168.5h1M1054 169.5h1M1055 170.5h1M1056 171.5h2M1058 172.5h1M1059 173.5h1M1060 174.5h1M1061 175.5h1M1062 176.5h1M1063 177.5h1M1064 178.5h1M1065 179.5h1M1066 180.5h1M1067 181.5h2M1069 182.5h1M1070 183.5h1M1071 184.5h1M1072 185.5h1M1073 186.5h1M1074 187.5h1M1075 188.5h1M1076 189.5h1M1077 190.5h1M1078 191.5h2M1080 192.5h1M1081 193.5h1M1082 194.5h1M1083 195.5h1M1084 196.5h1M1085 197.5h1M1086 198.5h1M1087 199.5h1M1088 200.5h1M1089 201.5h2M1091 202.5h1M1092 203.5h1M1093 204.5h1M1094 205.5h1M1095 206.5h1M1096 207.5h1M1097 208.5h1M1098 209.5h1M1099 210.5h1M1100 211.5h2M1102 212.5h1M1103 213.5h1M1104 214.5h1M1105 215.5h1M1106 216.5h1M1107 217.5h1M1108 218.5h1M1109 219.5h1M1110 220.5h1M1111 221.5h2M1113 222.5h1M1114 223.5h1M1115 224.5h1M1116 225.5h1M1117 226.5h1M1118 227.5h1M1119 228.5h1M1120 229.5h1M1121 230.5h1M1122 231.5h2M1124 232.5h1M1125 233.5h1M1126 234.5h1M1127 235.5h1M1128 236.5h1M1129 237.5h1M1130 238.5h1M1131 239.5h1M1132 240.5h1M1133 241.5h2M1135 242.5h1M1136 243.5h1M1137 244.5h1M1138 245.5h1M1139 246.5h1M1140 247.5h1M1141 248.5h1M1142 249.5h1M1143 250.5h1M1144 251.5h2M1146 252.5h1M1147 253.5h1M1148 254.5h1M1149 255.5h1M1150 256.5h1M1151 257.5h1M1152 258.5h1M1153 259.5h1M1154 260.5h1M1155 261.5h2M1157 262.5h1M1158 263.5h1M1159 264.5h1M1160 265.5h1M1161 266.5h1M1162 267.5h1M1163 268.5h1M1164 269.5h1M1165 270.5h1M1166 271.5h2M1168 272.5h1M1169 273.5h1M1170 274.5h1M1171 275.5h1M1172 276.5h1M1173 277.5h1M1174 278.5h1M1175 279.5h1M1176 280.5h1M1177 281.5h2M1179 282.5h1M1180 283.5h1M1181 284.5h1M1182 285.5h1M1183 286.5h1M1184 287.5h1M1185 288.5h1M1186 289.5h1M1187 290.5h1M1188 291.5h2M1190 292.5h1M1191 293.5h1M1192 294.5h1M1193 295.5h1M1194 296.5h1M1195 297.5h1M1196 298.5h1M1197 299.5h1M1198 300.5h1M1199 301.5h2M1201 302.5h1M1202 303.5h1M1203 304.5h1M1204 305.5h1M1205 306.5h1M1206 307.5h1M1207 308.5h1M1208 309.5h1M1209 310.5h1M1210 311.5h2M1212 312.5h1M1213 313.5h1M1214 314.5h1M1215 315.5h1M1216 316.5h1M1217 317.5h1M1218 318.5h1M1219 319.5h1M1220 320.5h1M1221 321.5h2M1223 322.5h1M1224 323.5h1M1225 324.5h1M1226 325.5h1M1227 326.5h1M1228 327.5h1M1229 328.5h1M1230 329.5h1M1231 330.5h1M1232 331.5h2M1234 332.5h1M1235 333.5h1M1236 334.5h1M1237 335.5h1M1238 336.5h1M1239 337.5h1M1240 338.5h1M1241 339.5h1M1242 340.5h1M1243 341.5h2M1245 342.5h1M1246 343.5h1M1247 344.5h1M1248 345.5h1M1249 346.5h1M1250 347.5h1M1251 348.5h1M1252 349.5h1M1253 350.5h2M1255 351.5h1M1256 352.5h1M1257 353.5h1M1258 354.5h1M1259 355.5h1M1260 356.5h1M1261 357.5h1M1262 358.5h1M1263 359.5h1M1264 360.5h2M1266 361.5h1M1267 362.5h1M1268 363.5h1M1269 364.5h1M1270 365.5h1M1271 366.5h1M1272 367.5h1M1273 368.5h1M1274 369.5h1M1275 370.5h2M1277 371.5h1M1278 372.5h1M1279 373.5h1M1280 374.5h1M1281 375.5h1M1282 376.5h1M1283 377.5h1M1284 378.5h1M1285 379.5h1M1286 380.5h2M1288 381.5h1M1289 382.5h1M1290 383.5h1M1291 384.5h1M1292 385.5h1M1293 386.5h1M1294 387.5h1M1295 388.5h1M1296 389.5h1M1297 390.5h2M1299 391.5h1M1300 392.5h1M1301 393.5h1M1302 394.5h1M1303 395.5h1M1304 396.5h1M1305 397.5h1M1306 398.5h1M1307 399.5h1M1308 400.5h2M1310 401.5h1M1311 402.5h1M1312 403.5h1M1313 404.5h1M1314 405.5h1M1315 406.5h1M1316 407.5h1M1317 408.5h1M1318 409.5h1M1319 410.5h2M1321 411.5h1M1322 412.5h1M1323 413.5h1M1324 414.5h1M1325 415.5h1M1326 416.5h1M1327 417.5h1M1328 418.5h1M1329 419.5h1M1330 420.5h2M1332 421.5h1M1333 422.5h1M1334 423.5h1M1335 424.5h1M1336 425.5h1M1337 426.5h1M1338 427.5h1M1339 428.5h1M1340 429.5h1M1341 430.5h2M1343 431.5h1M1344 432.5h1M1345 433.5h1M1346 434.5h1" stroke="#000" stroke-width="1" fill="none"/>
<polygon class="ce" points="1322.5,169.5 1345.5,215 1334,215 1334,260 1311,260 1311,215 1300,215" fill="#000"/>
<polyline class="ce" points="2.5,628.1 10.5,632.0 18.5,646.4 26.5,649.3 34.5,653.9 42.5,640.6 50.5,651.0 58.5,659.1 66.5,671.1 74.5,643.5 82.5,660.0 90.5,641.5 98.5,641.5 106.5,635.6 114.5,639.4 122.5,636.5 130.5,649.1 138.5,623.2 146.5,632.9 154.5,637.2 162.5,632.6 170.5,666.7 178.5,672.4 186.5,658.6 194.5,670.2 202.5,654.3 210.5,655.5 218.5,653.2 226.5,649.1 234.5,664.9 242.5,682.4 250.5,648.3 258.5,662.7 266.5,677.4 274.5,625.2 282.5,644.4 290.5,596.3 298.5,609.7 306.5,617.8 314.5,660.4 322.5,647.4 330.5,631.3 338.5,646.2 346.5,652.8 354.5,660.0 362.5,678.5 370.5,664.5 378.5,657.3 386.5,686.6 394.5,671.3 402.5,677.4 410.5,715.6 418.5,660.5 426.5,666.3 434.5,720.7 442.5,671.7 450.5,696.2 458.5,698.2 466.5,668.4 474.5,673.0 482.5,707.4 490.5,651.8 498.5,672.5 506.5,664.5 514.5,626.7 522.5,653.4 530.5,650.0 538.5,629.4 546.5,645.0 554.5,660.4 562.5,635.5 570.5,635.1 578.5,601.6 586.5,598.3 594.5,617.4 602.5,592.7 610.5,589.1 618.5,606.3 626.5,569.3 634.5,588.7 642.5,596.2 650.5,537.6 658.5,546.2 666.5,549.2 674.5,501.1 682.5,600.7 690.5,603.4 698.5,576.5 706.5,571.7 714.5,568.1 722.5,519.6 730.5,573.5 738.5,583.3 746.5,577.4 754.5,585.1 762.5,587.5 770.5,578.3 778.5,601.3 786.5,595.0 794.5,581.4 802.5,603.5 810.5,621.8 818.5,631.4 826.5,633.7 834.5,637.4 842.5,624.5 850.5,634.5 858.5,639.7 866.5,646.4 874.5,635.7 882.5,626.7 890.5,623.1 898.5,622.2 906.5,622.2 914.5,628.5 922.5,636.0 930.5,642.3 938.5,631.5 946.5,647.9 954.5,650.4 962.5,656.3 970.5,655.4 978.5,654.0 986.5,654.0 994.5,661.1 1002.5,680.9 1010.5,701.5 1018.5,673.7 1026.5,671.9 1034.5,677.3 1042.5,680.5 1050.5,670.1 1058.5,671.4 1066.5,643.2 1074.5,649.0 1082.5,655.4 1090.5,667.0 1098.5,649.8 1106.5,644.7 1114.5,672.9 1122.5,689.4 1130.5,675.2 1138.5,643.7 1146.5,641.6 1154.5,645.1 1162.5,663.2 1170.5,702.4 1178.5,679.3 1186.5,688.6 1194.5,688.6 1202.5,675.6 1210.5,661.2 1218.5,654.0 1226.5,643.7 1234.5,652.3 1242.5,645.7 1250.5,640.6 1258.5,634.4 1266.5,634.0 1274.5,624.7 1282.5,629.2 1290.5,600.4 1298.5,580.8 1306.5,590.5 1314.5,593.6 1322.5,568.4 1330.5,622.6" fill="none" stroke="#000" stroke-width="1"/>
<path class="ce" d="M674 499.5h2M676 500.5h2M678 501.5h3M681 502.5h2M683 503.5h3M686 504.5h2M688 505.5h3M691 506.5h1M698 509.5h2M700 510.5h3M703 511.5h2M705 512.5h3M708 513.5h2M710 514.5h3M713 515.5h2M715 516.5h1M722 518.5h1M723 519.5h2M725 520.5h3M728 521.5h2M730 522.5h3M733 523.5h2M735 524.5h3M738 525.5h2M746 528.5h1M747 529.5h3M750 530.5h2M752 531.5h3M755 532.5h2M757 533.5h3M760 534.5h2M762 535.5h2M770 538.5h2M772 539.5h3M775 540.5h2M777 541.5h3M780 542.5h2M782 543.5h3M785 544.5h2M787 545.5h1M794 548.5h3M797 549.5h2M799 550.5h3M802 551.5h2M804 552.5h3M807 553.5h2M809 554.5h3M818 557.5h1M819 558.5h3M822 559.5h2M824 560.5h3M827 561.5h2M829 562.5h3M832 563.5h2M834 564.5h2M842 567.5h2M844 568.5h2M846 569.5h3M849 570.5h2M851 571.5h3M854 572.5h2M856 573.5h3M859 574.5h1M866 577.5h3M869 578.5h2M871 579.5h3M874 580.5h2M876 581.5h3M879 582.5h2M881 583.5h3M890 586.5h1M891 587.5h2M893 588.5h3M896 589.5h2M898 590.5h3M901 591.5h2M903 592.5h3M906 593.5h2M914 596.5h2M916 597.5h2M918 598.5h3M921 599.5h2M923 600.5h3M926 601.5h2M928 602.5h3M931 603.5h1M938 606.5h2M940 607.5h3M943 608.5h2M945 609.5h3M948 610.5h2M950 611.5h3M953 612.5h2M955 613.5h1M962 615.5h1M963 616.5h2M965 617.5h3M968 618.5h2M970 619.5h3M973 620.5h2M975 621.5h3M978 622.5h2M986 625.5h1M987 626.5h3M990 627.5h2M992 628.5h3M995 629.5h2M997 630.5h3M1000 631.5h2M1002 632.5h2M1010 635.5h2M1012 636.5h3M1015 637.5h2M1017 638.5h3M1020 639.5h2M1022 640.5h3M1025 641.5h2M1027 642.5h1M1034 645.5h3M1037 646.5h2M1039 647.5h3M1042 648.5h2M1044 649.5h3M1047 650.5h2M1049 651.5h3M1058 654.5h1M1059 655.5h3M1062 656.5h2M1064 657.5h3M1067 658.5h2M1069 659.5h3M1072 660.5h2M1074 661.5h2M1082 664.5h2M1084 665.5h2M1086 666.5h3M1089 667.5h2M1091 668.5h3M1094 669.5h2M1096 670.5h3M1099 671.5h1M1106 674.5h3M1109 675.5h2M1111 676.5h3M1114 677.5h2M1116 678.5h3M1119 679.5h2M1121 680.5h2M1123 681.5h1M1130 683.5h1M1131 684.5h2M1133 685.5h3M1136 686.5h2M1138 687.5h3M1141 688.5h2M1143 689.5h3M1146 690.5h2M1154 693.5h2M1156 694.5h2M1158 695.5h3M1161 696.5h2M1163 697.5h3M1166 698.5h2M1168 699.5h2M1170 700.5h2M1178 703.5h2M1180 704.5h3M1183 705.5h2M1185 706.5h3M1188 707.5h2M1190 708.5h3M1193 709.5h2M1195 710.5h1M1202 712.5h1M1203 713.5h2M1205 714.5h3M1208 715.5h2M1210 716.5h3M1213 717.5h2M1215 718.5h2M1217 719.5h3M1226 722.5h1M1227 723.5h3M1230 724.5h2M1232 725.5h3M1235 726.5h2M1237 727.5h3M1240 728.5h2M1242 729.5h2" stroke="#FF0000" stroke-width="1" fill="none"/>
<g class="ce" fill="#000">
<rect x="1" y="1" width="1347" height="1"/>
<rect x="1" y="1" width="1" height="487"/>
<rect x="1" y="487" width="1347" height="1"/>
<rect x="1" y="489" width="1347" height="1"/>
<rect x="1" y="489" width="1" height="243"/>
<rect x="1" y="731" width="1348" height="1"/>
<rect x="1347" y="1" width="1" height="487"/>
<rect x="1347" y="489" width="1" height="243"/>
</g>
<polygon points="5,8.5 12.5,8.5 8.75,12.5" fill="#000"/>
<text transform="translate(17.5 13) rotate(0.03)" textLength="54" lengthAdjust="spacingAndGlyphs">NZDUSD,H4</text>
<text transform="translate(77 13) rotate(0.03)" textLength="33" lengthAdjust="spacingAndGlyphs">0.63232</text>
<text transform="translate(113 13) rotate(0.03)" textLength="33" lengthAdjust="spacingAndGlyphs">0.63277</text>
<text transform="translate(149 13) rotate(0.03)" textLength="33" lengthAdjust="spacingAndGlyphs">0.63204</text>
<text transform="translate(185 13) rotate(0.03)" textLength="33" lengthAdjust="spacingAndGlyphs">0.63267</text>
<text transform="translate(7 502) rotate(0.03)" textLength="38" lengthAdjust="spacingAndGlyphs">Force(13)</text>
<text transform="translate(47.7 502) rotate(0.03)" textLength="28" lengthAdjust="spacingAndGlyphs">0.2517</text>
<text transform="translate(1193.5 191) rotate(0.03)" textLength="18" lengthAdjust="spacingAndGlyphs">61.8</text>
<text transform="translate(1193.5 244) rotate(0.03)" textLength="18" lengthAdjust="spacingAndGlyphs">50.0</text>
<text transform="translate(1193.5 297) rotate(0.03)" textLength="18" lengthAdjust="spacingAndGlyphs">38.2</text>
<g class="ce" fill="#000">
<rect x="1348" y="20" width="2" height="1"/>
<rect x="1348" y="54" width="2" height="1"/>
<rect x="1348" y="87" width="2" height="1"/>
<rect x="1348" y="120" width="2" height="1"/>
<rect x="1348" y="153" width="2" height="1"/>
<rect x="1348" y="186" width="2" height="1"/>
<rect x="1348" y="219" width="2" height="1"/>
<rect x="1348" y="252" width="2" height="1"/>
<rect x="1348" y="285" width="2" height="1"/>
<rect x="1348" y="318" width="2" height="1"/>
<rect x="1348" y="352" width="2" height="1"/>
<rect x="1348" y="385" width="2" height="1"/>
<rect x="1348" y="418" width="2" height="1"/>
<rect x="1348" y="451" width="2" height="1"/>
<rect x="1348" y="484" width="2" height="1"/>
<rect x="1348" y="491" width="1" height="1"/>
<rect x="1348" y="628" width="1" height="1"/>
</g>
<text transform="translate(1353 24) rotate(0.03)" textLength="33" lengthAdjust="spacingAndGlyphs">0.64570</text>
<text transform="translate(1353 58) rotate(0.03)" textLength="33" lengthAdjust="spacingAndGlyphs">0.64420</text>
<text transform="translate(1353 124) rotate(0.03)" textLength="33" lengthAdjust="spacingAndGlyphs">0.64125</text>
<text transform="translate(1353 157) rotate(0.03)" textLength="33" lengthAdjust="spacingAndGlyphs">0.63980</text>
<text transform="translate(1353 190) rotate(0.03)" textLength="33" lengthAdjust="spacingAndGlyphs">0.63830</text>
<text transform="translate(1353 223) rotate(0.03)" textLength="33" lengthAdjust="spacingAndGlyphs">0.63685</text>
<text transform="translate(1353 256) rotate(0.03)" textLength="33" lengthAdjust="spacingAndGlyphs">0.63535</text>
<text transform="translate(1353 289) rotate(0.03)" textLength="33" lengthAdjust="spacingAndGlyphs">0.63390</text>
<text transform="translate(1353 322) rotate(0.03)" textLength="33" lengthAdjust="spacingAndGlyphs">0.63240</text>
<text transform="translate(1353 356) rotate(0.03)" textLength="33" lengthAdjust="spacingAndGlyphs">0.63090</text>
<text transform="translate(1353 389) rotate(0.03)" textLength="33" lengthAdjust="spacingAndGlyphs">0.62945</text>
<text transform="translate(1353 422) rotate(0.03)" textLength="33" lengthAdjust="spacingAndGlyphs">0.62795</text>
<text transform="translate(1353 455) rotate(0.03)" textLength="33" lengthAdjust="spacingAndGlyphs">0.62650</text>
<text transform="translate(1353 488) rotate(0.03)" textLength="33" lengthAdjust="spacingAndGlyphs">0.62500</text>
<text transform="translate(1351 500) rotate(0.03)" textLength="28" lengthAdjust="spacingAndGlyphs">7.0893</text>
<text transform="translate(1351.5 632) rotate(0.03)" textLength="17" lengthAdjust="spacingAndGlyphs">0.00</text>
<text transform="translate(1351.5 728) rotate(0.03)" textLength="31" lengthAdjust="spacingAndGlyphs">-5.2832</text>
<rect class="ce" x="1349" y="21" width="41" height="11" fill="#B22222"/>
<text transform="translate(1353.3 30) rotate(0.03)" textLength="33" lengthAdjust="spacingAndGlyphs" fill="#fff" style="fill:#fff;stroke:#fff">0.64542</text>
<rect class="ce" x="1349" y="80" width="41" height="11" fill="#B22222"/>
<text transform="translate(1353.3 89) rotate(0.03)" textLength="33" lengthAdjust="spacingAndGlyphs" fill="#fff" style="fill:#fff;stroke:#fff">0.64278</text>
<rect class="ce" x="1349" y="307" width="41" height="11" fill="#000"/>
<text transform="translate(1353.3 316) rotate(0.03)" textLength="33" lengthAdjust="spacingAndGlyphs" fill="#fff" style="fill:#fff;stroke:#fff">0.63267</text>
<rect class="ce" x="1349" y="392" width="41" height="11" fill="#000"/>
<text transform="translate(1353.3 401) rotate(0.03)" textLength="33" lengthAdjust="spacingAndGlyphs" fill="#fff" style="fill:#fff;stroke:#fff">0.62883</text>
<rect class="ce" x="1349" y="468" width="41" height="11" fill="#000"/>
<text transform="translate(1353.3 477) rotate(0.03)" textLength="33" lengthAdjust="spacingAndGlyphs" fill="#fff" style="fill:#fff;stroke:#fff">0.62547</text>
<rect class="ce" x="1349" y="618" width="36" height="11" fill="#008000"/>
<text transform="translate(1353.3 627) rotate(0.03)" textLength="28" lengthAdjust="spacingAndGlyphs" fill="#fff" style="fill:#fff;stroke:#fff">0.2100</text>
<g class="ce" fill="#000">
<rect x="2" y="732" width="1" height="3"/>
<rect x="66" y="732" width="1" height="3"/>
<rect x="130" y="732" width="1" height="3"/>
<rect x="194" y="732" width="1" height="3"/>
<rect x="258" y="732" width="1" height="3"/>
<rect x="322" y="732" width="1" height="3"/>
<rect x="386" y="732" width="1" height="3"/>
<rect x="450" y="732" width="1" height="3"/>
<rect x="514" y="732" width="1" height="3"/>
<rect x="578" y="732" width="1" height="3"/>
<rect x="642" y="732" width="1" height="3"/>
<rect x="706" y="732" width="1" height="3"/>
<rect x="770" y="732" width="1" height="3"/>
<rect x="834" y="732" width="1" height="3"/>
<rect x="898" y="732" width="1" height="3"/>
<rect x="962" y="732" width="1" height="3"/>
<rect x="1026" y="732" width="1" height="3"/>
<rect x="1090" y="732" width="1" height="3"/>
<rect x="1154" y="732" width="1" height="3"/>
<rect x="1218" y="732" width="1" height="3"/>
<rect x="1282" y="732" width="1" height="3"/>
</g>
<text transform="translate(1.5 744) rotate(0.03)" textLength="52" lengthAdjust="spacingAndGlyphs">16 Aug 2019</text>
<text transform="translate(65.5 744) rotate(0.03)" textLength="55" lengthAdjust="spacingAndGlyphs">20 Aug 00:00</text>
<text transform="translate(129.5 744) rotate(0.03)" textLength="55" lengthAdjust="spacingAndGlyphs">21 Aug 08:00</text>
<text transform="translate(193.5 744) rotate(0.03)" textLength="55" lengthAdjust="spacingAndGlyphs">22 Aug 16:00</text>
<text transform="translate(257.5 744) rotate(0.03)" textLength="55" lengthAdjust="spacingAndGlyphs">26 Aug 00:00</text>
<text transform="translate(321.5 744) rotate(0.03)" textLength="55" lengthAdjust="spacingAndGlyphs">27 Aug 08:00</text>
<text transform="translate(385.5 744) rotate(0.03)" textLength="55" lengthAdjust="spacingAndGlyphs">28 Aug 16:00</text>
<text transform="translate(449.5 744) rotate(0.03)" textLength="55" lengthAdjust="spacingAndGlyphs">30 Aug 00:00</text>
<text transform="translate(513.5 744) rotate(0.03)" textLength="49" lengthAdjust="spacingAndGlyphs">2 Sep 08:00</text>
<text transform="translate(577.5 744) rotate(0.03)" textLength="49" lengthAdjust="spacingAndGlyphs">3 Sep 16:00</text>
<text transform="translate(641.5 744) rotate(0.03)" textLength="49" lengthAdjust="spacingAndGlyphs">5 Sep 00:00</text>
<text transform="translate(705.5 744) rotate(0.03)" textLength="49" lengthAdjust="spacingAndGlyphs">6 Sep 08:00</text>
<text transform="translate(769.5 744) rotate(0.03)" textLength="49" lengthAdjust="spacingAndGlyphs">9 Sep 16:00</text>
<text transform="translate(833.5 744) rotate(0.03)" textLength="54" lengthAdjust="spacingAndGlyphs">11 Sep 00:00</text>
<text transform="translate(897.5 744) rotate(0.03)" textLength="54" lengthAdjust="spacingAndGlyphs">12 Sep 08:00</text>
<text transform="translate(961.5 744) rotate(0.03)" textLength="54" lengthAdjust="spacingAndGlyphs">13 Sep 16:00</text>
<text transform="translate(1025.5 744) rotate(0.03)" textLength="54" lengthAdjust="spacingAndGlyphs">17 Sep 00:00</text>
<text transform="translate(1089.5 744) rotate(0.03)" textLength="54" lengthAdjust="spacingAndGlyphs">18 Sep 08:00</text>
<text transform="translate(1153.5 744) rotate(0.03)" textLength="54" lengthAdjust="spacingAndGlyphs">19 Sep 16:00</text>
<text transform="translate(1217.5 744) rotate(0.03)" textLength="54" lengthAdjust="spacingAndGlyphs">23 Sep 00:00</text>
<text transform="translate(1281.5 744) rotate(0.03)" textLength="54" lengthAdjust="spacingAndGlyphs">24 Sep 08:00</text>
</svg>
</body>
</html>
